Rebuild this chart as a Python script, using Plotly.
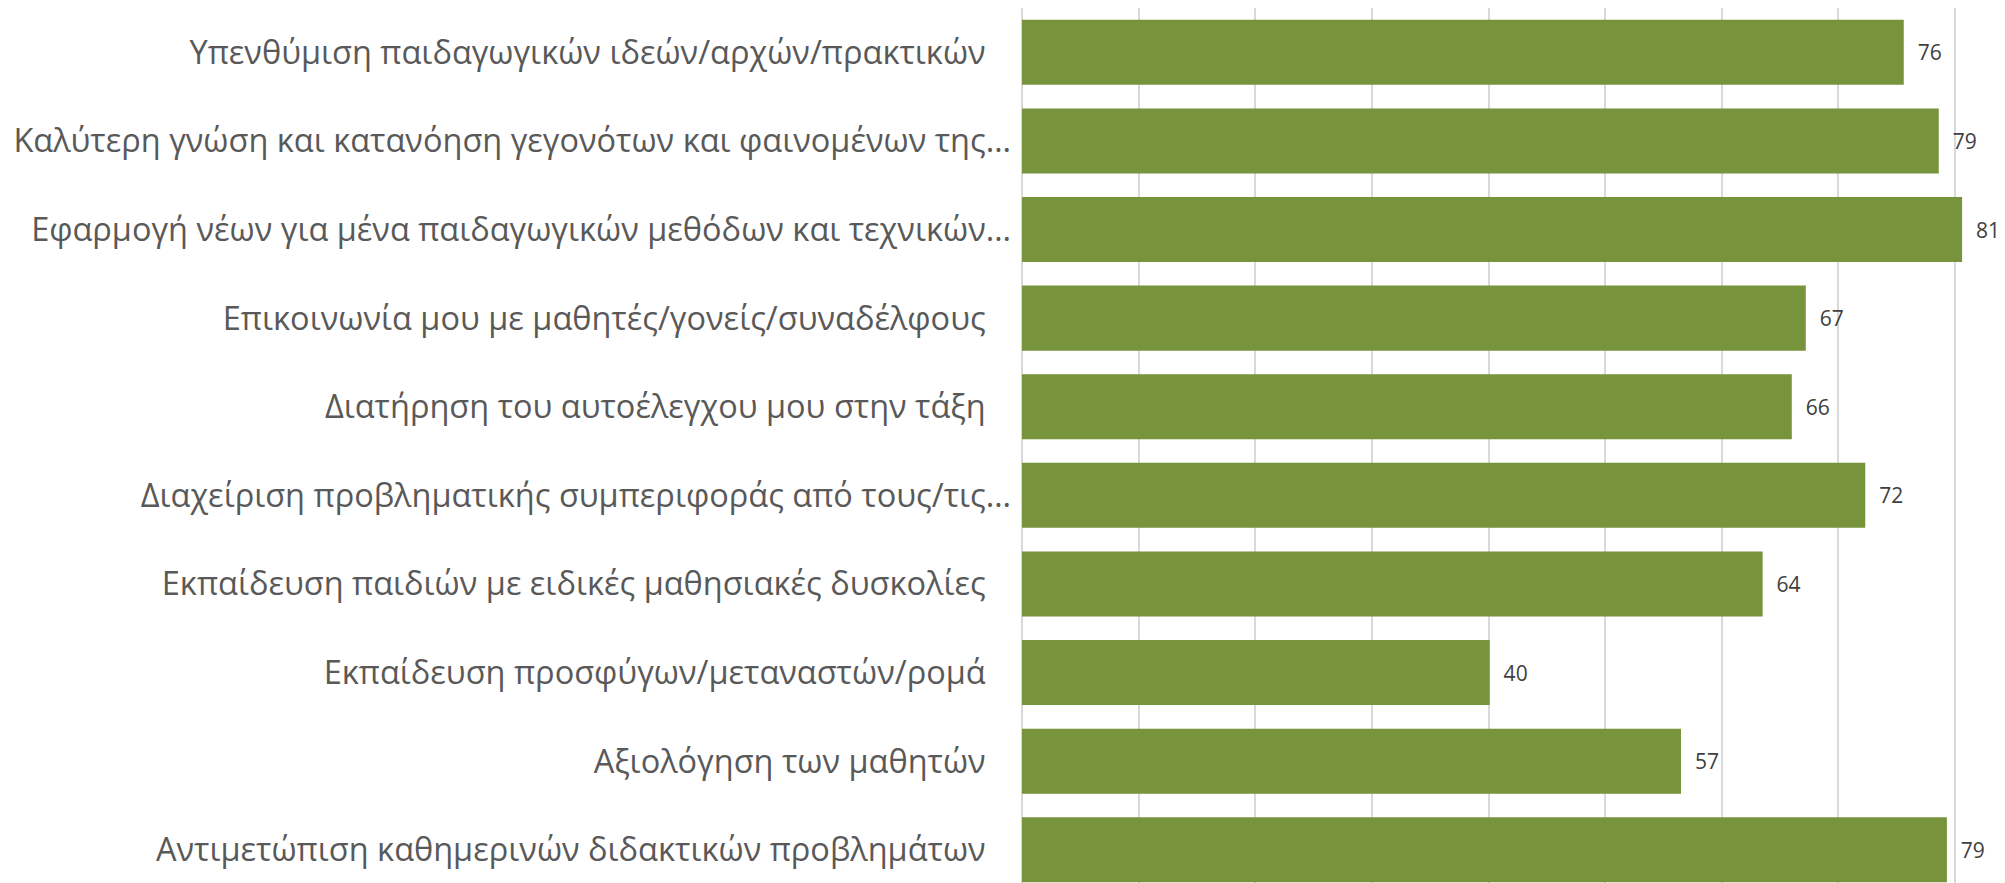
import plotly.graph_objects as go

# categories top to bottom, as shown in the chart
categories = [
    "Υπενθύμιση παιδαγωγικών ιδεών/αρχών/πρακτικών",
    "Καλύτερη γνώση και κατανόηση γεγονότων και φαινομένων της…",
    "Εφαρμογή νέων για μένα παιδαγωγικών μεθόδων και τεχνικών…",
    "Επικοινωνία μου με μαθητές/γονείς/συναδέλφους",
    "Διατήρηση του αυτοέλεγχου μου στην τάξη",
    "Διαχείριση προβληματικής συμπεριφοράς από τους/τις…",
    "Εκπαίδευση παιδιών με ειδικές μαθησιακές δυσκολίες",
    "Εκπαίδευση προσφύγων/μεταναστών/ρομά",
    "Αξιολόγηση των μαθητών",
    "Αντιμετώπιση καθημερινών διδακτικών προβλημάτων",
]
values = [75.6, 78.6, 80.6, 67.2, 66.0, 72.3, 63.5, 40.1, 56.5, 79.3]

PAD = "\u00a0" * 3
tick_text = [c if c.endswith("…") else c + PAD for c in categories]

BAR = "#77933C"
GRID = "#D9D9D9"

fig = go.Figure(
    go.Bar(
        x=values,
        y=categories,
        orientation="h",
        marker=dict(color=BAR, line=dict(width=0)),
        width=0.734,
        texttemplate="\u00a0\u00a0%{x:.0f}",
        textposition="outside",
        textfont=dict(family="Open Sans", size=21, color="#404040"),
        cliponaxis=False,
    )
)

# page body has an 8px margin, so the figure is shrunk by that much
fig.update_layout(
    width=1997,
    height=875,
    margin=dict(l=1014, r=0, t=0, b=0),
    paper_bgcolor="white",
    plot_bgcolor="white",
    showlegend=False,
    font=dict(family="Open Sans", color="#595959"),
)
fig.update_xaxes(
    range=[0, 84.28],
    dtick=10,
    showgrid=True,
    gridcolor=GRID,
    gridwidth=1.5,
    zeroline=True,
    zerolinecolor=GRID,
    zerolinewidth=2,
    showticklabels=False,
)
fig.update_yaxes(
    autorange=False,
    range=[9.375, -0.5],
    tickmode="array",
    tickvals=categories,
    ticktext=tick_text,
    tickfont=dict(family="Open Sans", size=32.5, color="#595959"),
    ticklabelstandoff=10,
    showgrid=False,
    automargin=False,
)

fig.write_html("out.html")
